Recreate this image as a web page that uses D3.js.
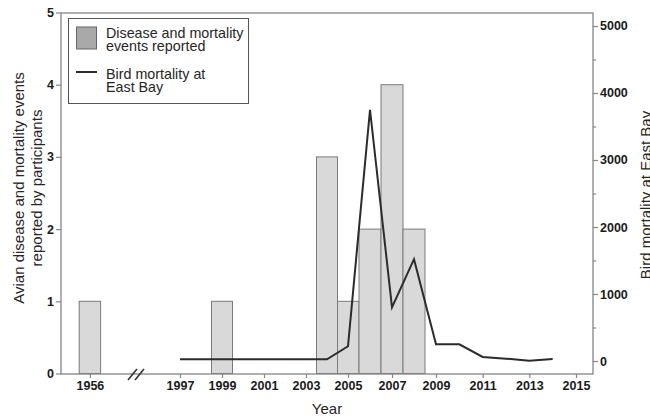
<!DOCTYPE html>
<html>
<head>
<meta charset="utf-8">
<script src="https://cdn.jsdelivr.net/npm/d3@7"></script>
<style>
  body { margin: 0; background: #fff; }
  svg { display: block; font-family: "Liberation Sans", Arial, sans-serif; }
</style>
</head>
<body>
<svg id="chart" width="650" height="417"></svg>
<script>
// bars: disease and mortality events reported by participants
const barYears = [1956, 1999, 2004, 2005, 2006, 2007, 2008];
const eventCounts = [1, 1, 3, 1, 2, 4, 2];

// line: bird mortality at East Bay
const lineYears = [1997, 1998, 1999, 2000, 2001, 2002, 2003, 2004, 2005, 2006,
  2007, 2008, 2009, 2010, 2011, 2012, 2013, 2014];
const mortality = [25, 25, 25, 25, 25, 25, 25, 25, 220, 3750,
  800, 1520, 250, 250, 60, 35, 5, 30];

const xTickYears = [1956, 1997, 1999, 2001, 2003, 2005, 2007, 2009, 2011, 2013, 2015];
const leftTicks = [0, 1, 2, 3, 4, 5];
const rightTicks = [0, 1000, 2000, 3000, 4000, 5000];
const rightMinorTicks = [500, 1500, 2500, 3500, 4500];

const plotLeft = 61, plotRight = 593, plotTop = 13, plotBottom = 374;
const frameColor = '#858585';

const svg = d3.select('#chart');

// broken x axis: 1956 on its own, then 1995 onward
const x = d3.scaleLinear()
  .domain([1954.65, 1958.2, 1995, 1997, 2005, 2009, 2015, 2015.75])
  .range([plotLeft, 137, 137, 180, 348, 436, 576, plotRight]);

const yL = d3.scaleLinear().domain([0, 5]).range([plotBottom - 0.5, plotTop - 0.5]);
const yR = d3.scaleLinear().domain([-194, 5194]).range([plotBottom, plotTop]);

// bars
svg.append('g')
  .selectAll('rect')
  .data(barYears.map((yr, i) => ({ year: yr, count: eventCounts[i] })))
  .enter()
  .append('rect')
  .attr('x', d => x(d.year - 0.5))
  .attr('y', d => yL(d.count))
  .attr('width', d => x(d.year + 0.5) - x(d.year - 0.5))
  .attr('height', d => yL(0) - yL(d.count))
  .attr('fill', '#d9d9d9')
  .attr('stroke', '#7a7a7a')
  .attr('stroke-width', 1);

// mortality line
const line = d3.line()
  .x((d, i) => x(lineYears[i]))
  .y(d => yR(d));

svg.append('path')
  .datum(mortality)
  .attr('d', line)
  .attr('fill', 'none')
  .attr('stroke', '#2b2b2b')
  .attr('stroke-width', 2)
  .attr('stroke-linejoin', 'miter');

// frame
svg.append('rect')
  .attr('x', plotLeft).attr('y', plotTop)
  .attr('width', plotRight - plotLeft).attr('height', plotBottom - plotTop)
  .attr('fill', 'none')
  .attr('stroke', frameColor)
  .attr('stroke-width', 1.3);

function styleAxis(g) {
  g.select('.domain').remove();
  g.selectAll('.tick line').attr('stroke', frameColor).attr('stroke-width', 1.2);
  g.selectAll('.tick text')
    .attr('fill', '#1a1a1a')
    .style('font-size', '12.5px')
    .style('font-weight', 'bold')
    .style('font-family', '"Liberation Sans", Arial, sans-serif');
}

// x axis
svg.append('g')
  .attr('transform', 'translate(0,' + plotBottom + ')')
  .call(d3.axisBottom(x).tickValues(xTickYears).tickFormat(d3.format('d')).tickSize(4).tickPadding(3))
  .call(styleAxis);

// axis break marks
const bx = x(1995);
[-4, 3].forEach(off => {
  svg.append('line')
    .attr('x1', bx + off - 5).attr('y1', plotBottom + 6)
    .attr('x2', bx + off + 4).attr('y2', plotBottom - 5)
    .attr('stroke', '#333')
    .attr('stroke-width', 1.6);
});

// left axis
svg.append('g')
  .attr('transform', 'translate(' + plotLeft + ',0)')
  .call(d3.axisLeft(yL).tickValues(leftTicks).tickFormat(d3.format('d')).tickSize(5).tickPadding(2))
  .call(styleAxis);

// right axis
svg.append('g')
  .attr('transform', 'translate(' + plotRight + ',0)')
  .call(d3.axisRight(yR).tickValues(rightTicks).tickFormat(d3.format('d')).tickSize(5).tickPadding(2))
  .call(styleAxis);

svg.append('g')
  .attr('transform', 'translate(' + plotRight + ',0)')
  .call(d3.axisRight(yR).tickValues(rightMinorTicks).tickSize(3).tickFormat(''))
  .call(styleAxis);

// axis titles
svg.append('text')
  .attr('x', 327).attr('y', 414)
  .attr('text-anchor', 'middle')
  .attr('fill', '#262626')
  .style('font-size', '15px')
  .text('Year');

const leftTitle = ['Avian disease and mortality events', 'reported by participants'];
leftTitle.forEach((t, i) => {
  svg.append('text')
    .attr('transform', 'translate(' + (24 + i * 18) + ',188) rotate(-90)')
    .attr('text-anchor', 'middle')
    .attr('fill', '#262626')
    .style('font-size', '15px')
    .text(t);
});

svg.append('text')
  .attr('transform', 'translate(651,195) rotate(-90)')
  .attr('text-anchor', 'middle')
  .attr('fill', '#262626')
  .style('font-size', '15px')
  .text('Bird mortality at East Bay');

// legend
const legend = svg.append('g');
legend.append('rect')
  .attr('x', 68.5).attr('y', 18.5)
  .attr('width', 180).attr('height', 85)
  .attr('fill', '#fff')
  .attr('stroke', '#555')
  .attr('stroke-width', 1);

legend.append('rect')
  .attr('x', 76.5).attr('y', 27)
  .attr('width', 20).attr('height', 22)
  .attr('fill', '#a9a9a9')
  .attr('stroke', '#666');

legend.append('line')
  .attr('x1', 76).attr('x2', 97)
  .attr('y1', 72).attr('y2', 72)
  .attr('stroke', '#2b2b2b')
  .attr('stroke-width', 2);

const legendLines = [
  ['Disease and mortality', 38], ['events reported', 51],
  ['Bird mortality at', 79], ['East Bay', 92]
];
legendLines.forEach(([t, yy]) => {
  legend.append('text')
    .attr('x', 106).attr('y', yy)
    .attr('fill', '#262626')
    .style('font-size', '14.3px')
    .text(t);
});
</script>
</body>
</html>
